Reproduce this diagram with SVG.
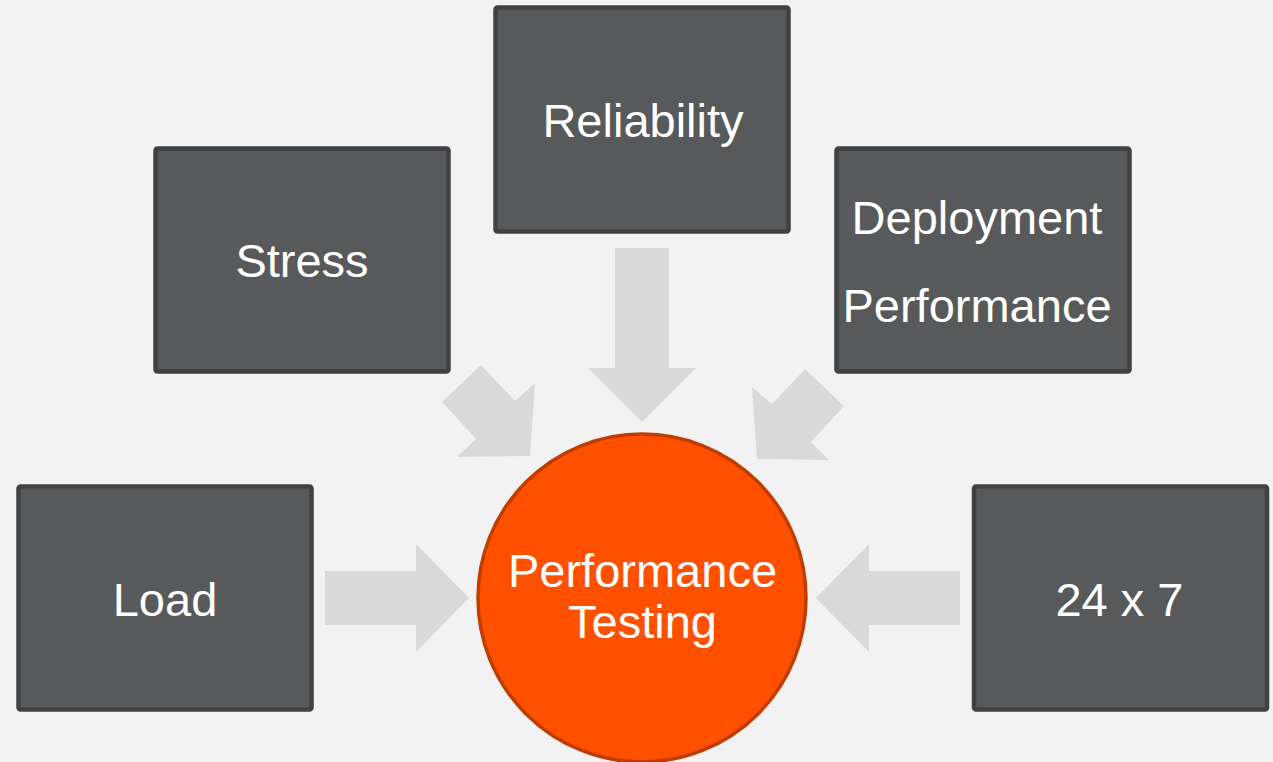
<svg xmlns="http://www.w3.org/2000/svg" width="1273" height="762" viewBox="0 0 1273 762">
<style>
.box{fill:#58595b;stroke:#404143;stroke-width:4.5}
.lbl{font-family:"Liberation Sans",Arial,sans-serif;font-size:47px;fill:#ffffff;text-anchor:middle}
.arrow{fill:#d9d9d9}
</style>
<rect x="0" y="0" width="1273" height="762" fill="#f2f2f2"/>
<g id="connectors">
<polygon class="arrow" points="615,248 669,248 669,368 696,368 642,422 588,368 615,368"/>
<polygon class="arrow" points="325,571 416,571 416,544 469,598 416,652 416,625 325,625"/>
<polygon class="arrow" points="960,571 869,571 869,544 816,598 869,652 869,625 960,625"/>
<polygon class="arrow" points="481,365 442,402 476,439 457,457 530,456 535,383 515,401"/>
<polygon class="arrow" points="805,369 844,406 811,442 829,460 757,459 752,387 772,404"/>
</g>
<g id="node-reliability">
<rect class="box" x="495.5" y="7.5" width="293" height="224" rx="2"/>
<text class="lbl" x="643" y="137">Reliability</text>
</g>
<g id="node-stress">
<rect class="box" x="155.5" y="148.5" width="293" height="223" rx="2"/>
<text class="lbl" x="302" y="277">Stress</text>
</g>
<g id="node-deployment">
<rect class="box" x="836.5" y="148.5" width="293" height="223" rx="2"/>
<text class="lbl" x="977" y="234">Deployment</text>
<text class="lbl" x="977" y="322">Performance</text>
</g>
<g id="node-load">
<rect class="box" x="18.5" y="486.5" width="293" height="223" rx="2"/>
<text class="lbl" x="165" y="616">Load</text>
</g>
<g id="node-247">
<rect class="box" x="974" y="486.5" width="293" height="223" rx="2"/>
<text class="lbl" x="1119.5" y="616">24 x 7</text>
</g>
<g id="node-performance-testing">
<circle cx="642" cy="598" r="164" fill="#ff5000" stroke="#c03c00" stroke-width="3.5"/>
<text class="lbl" x="642.5" y="587">Performance</text>
<text class="lbl" x="642.5" y="638">Testing</text>
</g>
</svg>
